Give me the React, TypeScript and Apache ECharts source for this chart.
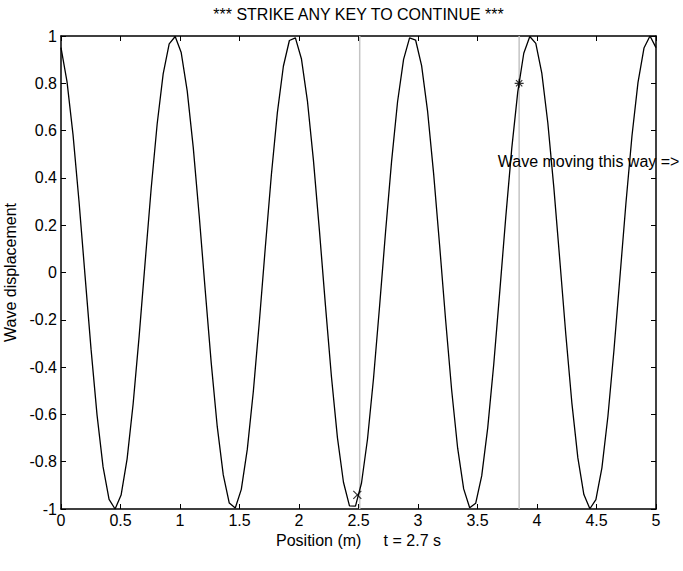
import React, { useEffect, useRef } from "react";
import * as echarts from "echarts";

const titleText = "*** STRIKE ANY KEY TO CONTINUE ***";
const xLabelText = "Position (m)\u00a0\u00a0\u00a0\u00a0\u00a0t = 2.7 s";
const yLabelText = "Wave displacement";
const noteText = "Wave moving this way =>";
const notePos = [3.67, 0.47];

const xPos = [
  0, 0.0505, 0.101, 0.1515, 0.202, 0.2525, 0.303, 0.3535, 0.404, 0.4545,
  0.5051, 0.5556, 0.6061, 0.6566, 0.7071, 0.7576, 0.8081, 0.8586, 0.9091, 0.9596,
  1.0101, 1.0606, 1.1111, 1.1616, 1.2121, 1.2626, 1.3131, 1.3636, 1.4141, 1.4646,
  1.5152, 1.5657, 1.6162, 1.6667, 1.7172, 1.7677, 1.8182, 1.8687, 1.9192, 1.9697,
  2.0202, 2.0707, 2.1212, 2.1717, 2.2222, 2.2727, 2.3232, 2.3737, 2.4242, 2.4747,
  2.5253, 2.5758, 2.6263, 2.6768, 2.7273, 2.7778, 2.8283, 2.8788, 2.9293, 2.9798,
  3.0303, 3.0808, 3.1313, 3.1818, 3.2323, 3.2828, 3.3333, 3.3838, 3.4343, 3.4848,
  3.5354, 3.5859, 3.6364, 3.6869, 3.7374, 3.7879, 3.8384, 3.8889, 3.9394, 3.9899,
  4.0404, 4.0909, 4.1414, 4.1919, 4.2424, 4.2929, 4.3434, 4.3939, 4.4444, 4.4949,
  4.5455, 4.596, 4.6465, 4.697, 4.7475, 4.798, 4.8485, 4.899, 4.9495, 5.0,
];

const yDisp = [
  0.951, 0.807, 0.583, 0.3, -0.013, -0.324, -0.603, -0.822, -0.959, -1.0,
  -0.941, -0.788, -0.556, -0.27, 0.044, 0.354, 0.628, 0.84, 0.967, 0.998,
  0.93, 0.768, 0.53, 0.239, -0.076, -0.383, -0.652, -0.856, -0.975, -0.996,
  -0.917, -0.747, -0.503, -0.208, 0.108, 0.412, 0.676, 0.872, 0.981, 0.992,
  0.904, 0.726, 0.475, 0.177, -0.139, -0.441, -0.699, -0.887, -0.987, -0.988,
  -0.89, -0.704, -0.447, -0.145, 0.171, 0.469, 0.722, 0.901, 0.992, 0.983,
  0.875, 0.681, 0.418, 0.114, -0.202, -0.497, -0.743, -0.915, -0.995, -0.976,
  -0.86, -0.657, -0.389, -0.082, 0.233, 0.525, 0.764, 0.927, 0.998, 0.969,
  0.843, 0.633, 0.36, 0.051, -0.263, -0.551, -0.784, -0.939, -0.999, -0.96,
  -0.826, -0.608, -0.33, -0.019, 0.294, 0.577, 0.803, 0.949, 1.0, 0.951,
];

const guideLinesX = [2.51, 3.85];
const crossMarker = [2.49, -0.94];
const starMarker = [3.85, 0.8];

const FONT = "'Liberation Sans', Arial, Helvetica, sans-serif";
const FS = 16;

export default function App() {
  const ref = useRef<HTMLDivElement>(null);

  useEffect(() => {
    document.body.style.margin = "0";
    if (!ref.current) return;
    const chart = echarts.init(ref.current, null, { renderer: "svg" });

    const axisLineStyle = { color: "#000", width: 1.5 };
    const tickCommon = { show: true, inside: true, length: 5, lineStyle: { color: "#000", width: 1 } };

    const guideSeries = guideLinesX.map((v) => ({
      type: "line",
      data: [
        [v, -1],
        [v, 1],
      ],
      showSymbol: false,
      symbol: "none",
      lineStyle: { color: "#c4c4c4", width: 1.5 },
      z: 1,
      silent: true,
    }));

    chart.setOption({
      animation: false,
      textStyle: { fontFamily: FONT },
      grid: {
        left: 61,
        right: 27,
        top: 36,
        bottom: 62,
        containLabel: false,
        outerBoundsMode: "none",
      },
      xAxis: [
        {
          type: "value",
          min: 0,
          max: 5,
          interval: 0.5,
          position: "bottom",
          name: xLabelText,
          nameLocation: "middle",
          nameGap: 13,
          nameTextStyle: { color: "#000", fontSize: FS, fontFamily: FONT },
          axisLine: { show: true, onZero: false, lineStyle: axisLineStyle },
          axisTick: tickCommon,
          axisLabel: { color: "#000", fontSize: FS, margin: 3, fontFamily: FONT },
          splitLine: { show: false },
        },
        {
          type: "value",
          min: 0,
          max: 5,
          interval: 0.5,
          position: "top",
          axisLine: { show: true, onZero: false, lineStyle: axisLineStyle },
          axisTick: tickCommon,
          axisLabel: { show: false },
          splitLine: { show: false },
        },
      ],
      yAxis: [
        {
          type: "value",
          min: -1,
          max: 1,
          interval: 0.2,
          position: "left",
          name: yLabelText,
          nameLocation: "middle",
          nameGap: 35,
          nameTextStyle: { color: "#000", fontSize: FS, fontFamily: FONT },
          axisLine: { show: true, onZero: false, lineStyle: axisLineStyle },
          axisTick: tickCommon,
          axisLabel: {
            color: "#000",
            fontSize: FS,
            margin: 4,
            fontFamily: FONT,
            formatter: (v: number) => String(Math.round(v * 10) / 10),
          },
          splitLine: { show: false },
        },
        {
          type: "value",
          min: -1,
          max: 1,
          interval: 0.2,
          position: "right",
          axisLine: { show: true, onZero: false, lineStyle: axisLineStyle },
          axisTick: tickCommon,
          axisLabel: { show: false },
          splitLine: { show: false },
        },
      ],
      series: [
        ...guideSeries,
        {
          type: "line",
          data: xPos.map((x, i) => [x, yDisp[i]]),
          showSymbol: false,
          symbol: "none",
          lineStyle: { color: "#000", width: 1.3 },
          z: 3,
          silent: true,
        },
        {
          type: "scatter",
          data: [crossMarker],
          symbol: "path://M0,0L10,10M10,0L0,10",
          symbolSize: 8,
          itemStyle: { color: "none", borderColor: "#000", borderWidth: 1.2 },
          z: 4,
          silent: true,
        },
        {
          type: "scatter",
          data: [starMarker],
          symbol: "path://M0,5L10,5M5,0L5,10M1.5,1.5L8.5,8.5M8.5,1.5L1.5,8.5",
          symbolSize: 9,
          itemStyle: { color: "none", borderColor: "#000", borderWidth: 1.2 },
          z: 4,
          silent: true,
        },
      ],
    });

    const notePx = chart.convertToPixel({ gridIndex: 0 }, notePos) as number[];
    const gridLeft = 61;
    const gridRight = 683 - 27;

    chart.setOption({
      graphic: [
        {
          type: "text",
          x: (gridLeft + gridRight) / 2,
          y: 14,
          z: 10,
          style: {
            text: titleText,
            fill: "#000",
            font: `${FS}px ${FONT}`,
            textAlign: "center",
            textVerticalAlign: "middle",
          },
        },
        {
          type: "text",
          x: notePx[0],
          y: notePx[1],
          z: 10,
          style: {
            text: noteText,
            fill: "#000",
            font: `${FS}px ${FONT}`,
            textAlign: "left",
            textVerticalAlign: "middle",
          },
        },
      ],
    });

    return () => chart.dispose();
  }, []);

  return <div ref={ref} style={{ width: 683, height: 571 }} />;
}
